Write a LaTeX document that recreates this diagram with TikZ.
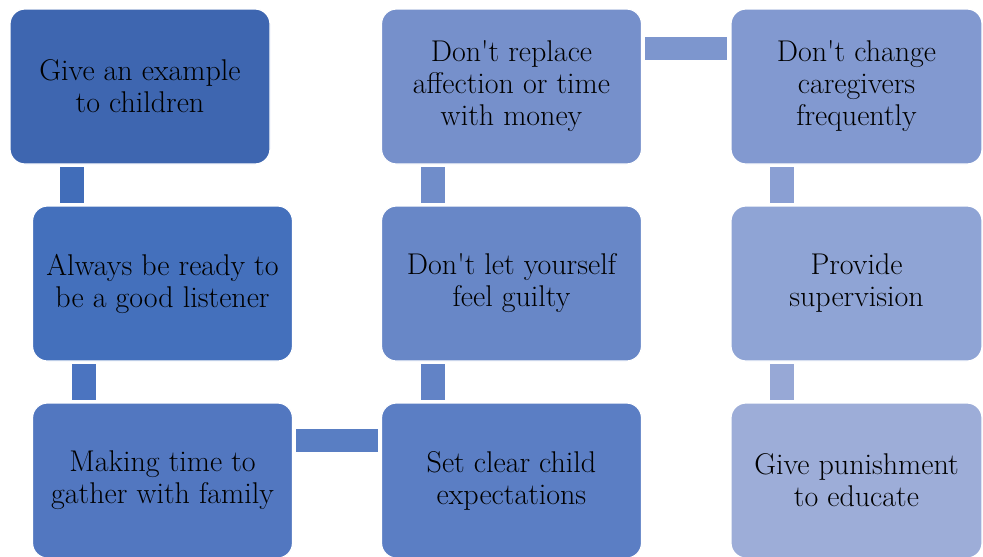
\documentclass[tikz,border=0pt]{standalone}
\usetikzlibrary{calc}
\definecolor{c1}{HTML}{3E66B0}
\definecolor{c2}{HTML}{4470BC}
\definecolor{c3}{HTML}{5277C0}
\definecolor{c4}{HTML}{5B7EC4}
\definecolor{c5}{HTML}{6887C7}
\definecolor{c6}{HTML}{7690CB}
\definecolor{c7}{HTML}{8299D0}
\definecolor{c8}{HTML}{8FA4D5}
\definecolor{c9}{HTML}{9DADD8}
\definecolor{b1}{HTML}{416DB9}
\definecolor{b2}{HTML}{4B74C0}
\definecolor{b3}{HTML}{597EC3}
\definecolor{b4}{HTML}{6283C6}
\definecolor{b5}{HTML}{708DCA}
\definecolor{b6}{HTML}{7D96CE}
\definecolor{b7}{HTML}{8A9FD3}
\definecolor{b8}{HTML}{97A8D6}
\newcommand{\apo}{\textquotesingle}
\tikzset{
  box/.style={draw=white, line width=1.2pt, rounded corners=15pt,
    minimum width=260pt, minimum height=155pt, inner sep=0pt,
    align=center, font=\fontsize{30}{32}\selectfont, text=black},
  lastbox/.style={box, minimum width=251pt},
  vbar/.style={line width=24pt},
  hbar/.style={line width=23pt},
}
\begin{document}
\begin{tikzpicture}[x=1pt,y=-1pt]
\useasboundingbox (0,0) rectangle (983,557);
\node[box, fill=c1] (n1) at (140,86.5) {Give an example\\to children};
\node[box, fill=c2] (n2) at (162.5,283.5) {Always be ready to\\be a good listener};
\node[box, fill=c3] (n3) at (162.5,480.5) {Making time to\\gather with family};
\node[box, fill=c4] (n4) at (511.5,480.5) {Set clear child\\expectations};
\node[box, fill=c5] (n5) at (511.5,283.5) {Don\apo t let yourself\\feel guilty};
\node[box, fill=c6] (n6) at (511.5,86.5) {Don\apo t replace\\affection or time\\with money};
\node[lastbox, fill=c7] (n7) at (856.5,86.5) {Don\apo t change\\caregivers\\frequently};
\node[lastbox, fill=c8] (n8) at (856.5,283.5) {Provide\\supervision};
\node[lastbox, fill=c9] (n9) at (856.5,480.5) {Give punishment\\to educate};
% connectors
\draw[vbar, b1] ($(n2.north west)+(40,-2.5)$) -- ($(n2.north west |- n1.south)+(40,2.5)$);
\draw[vbar, b2] ($(n3.north west)+(52,-2.5)$) -- ($(n3.north west |- n2.south)+(52,2.5)$);
\draw[hbar, b3] ($(n3.east |- 0,440.5)+(3,0)$) -- ($(n4.west |- 0,440.5)+(-3,0)$);
\draw[vbar, b4] ($(n4.north west)+(52,-2.5)$) -- ($(n4.north west |- n5.south)+(52,2.5)$);
\draw[vbar, b5] ($(n5.north west)+(52,-2.5)$) -- ($(n5.north west |- n6.south)+(52,2.5)$);
\draw[hbar, b6] ($(n6.east |- 0,48)+(3,0)$) -- ($(n7.west |- 0,48)+(-3,0)$);
\draw[vbar, b7] ($(n8.north west)+(52,-2.5)$) -- ($(n8.north west |- n7.south)+(52,2.5)$);
\draw[vbar, b8] ($(n9.north west)+(52,-2.5)$) -- ($(n9.north west |- n8.south)+(52,2.5)$);
\end{tikzpicture}
\end{document}
